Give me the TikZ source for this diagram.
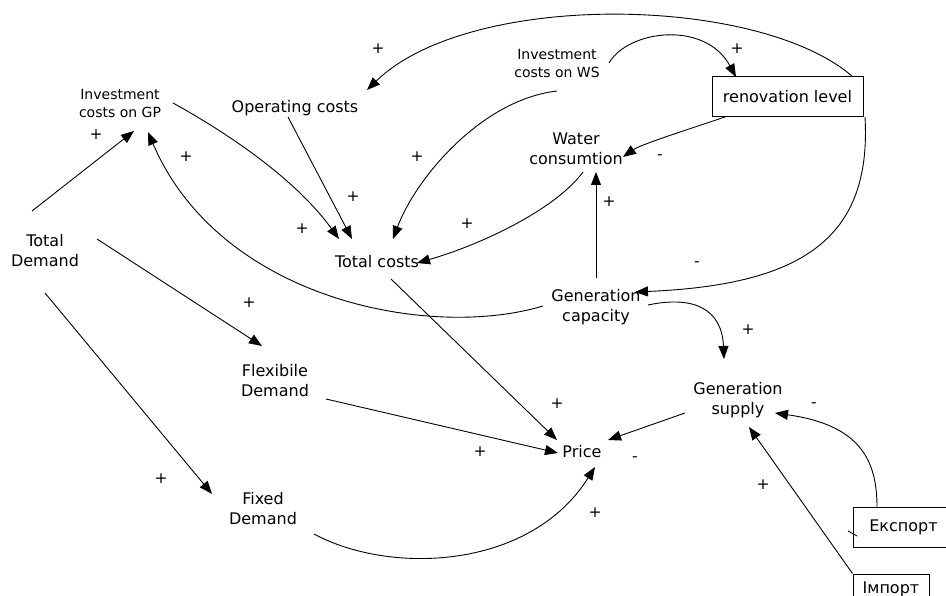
\documentclass[tikz,border=0pt]{standalone}
\usepackage{fontspec}
\setmainfont{DejaVu Sans}
\usetikzlibrary{arrows.meta}
\begin{document}
\begin{tikzpicture}[x=1pt,y=-1pt,
  lbl/.style={inner sep=0pt, align=center, font=\fontsize{16}{20}\selectfont},
  slbl/.style={inner sep=0pt, align=center, font=\fontsize{14}{18}\selectfont},
  boxnode/.style={draw, line width=1pt, inner sep=0pt, font=\fontsize{16}{20}\selectfont},
  sign/.style={inner sep=0pt, font=\fontsize{15.5}{17}\selectfont},
  arr/.style={line width=0.9pt, -{Triangle[length=13pt,width=10pt]}},
  ln/.style={line width=0.9pt}]
\useasboundingbox (0,0) rectangle (946,596);
% nodes
\node[slbl] (invgp) at (120,103) {Investment\\costs on GP};
\node[lbl] (opc) at (295,108) {Operating costs};
\node[slbl] (invws) at (557,63) {Investment\\costs on WS};
\node[boxnode, minimum width=151pt, minimum height=40pt] (ren) at (787.5,97) {renovation level};
\node[lbl] (wat) at (576,149) {Water\\consumtion};
\node[lbl] (gen) at (596,307) {Generation\\capacity};
\node[lbl] (tdem) at (45,251) {Total\\Demand};
\node[lbl] (tc) at (377,262) {Total costs};
\node[lbl] (flex) at (275,381) {Flexibile\\Demand};
\node[lbl] (fix) at (263,509) {Fixed\\Demand};
\node[lbl] (price) at (582,452) {Price};
\node[lbl] (sup) at (738,400) {Generation\\supply};
\node[boxnode, minimum width=101pt, minimum height=40pt] (exp) at (903.5,527) {Експорт};
\node[boxnode, minimum width=76pt, minimum height=30pt] (imp) at (891,589) {Імпорт};
% connectors
\draw[arr] ([shift={(-13,-40)}]tdem.center) -- ([shift={(14,28)}]invgp.center);
\draw[arr] ([shift={(53,0)}]invgp.center) .. controls (240,140) and (300,185) .. ([shift={(-38,-23)}]tc.center);
\draw[arr] ([shift={(-7,9)}]opc.center) -- ([shift={(-25,-23)}]tc.center);
\draw[arr] ([shift={(0,28)}]invws.center) .. controls (480,100) and (415,180) .. ([shift={(16,-23)}]tc.center);
\draw[arr] ([shift={(7,23)}]wat.center) .. controls (555,210) and (480,245) .. ([shift={(40,1)}]tc.center);
\draw[arr] ([shift={(-62.5,20)}]ren.center) .. controls (680,132) and (640,145) .. ([shift={(47,8)}]wat.center);
\draw[arr] ([shift={(0,-29)}]gen.center) -- ([shift={(20,23)}]wat.center);
\draw[arr] ([shift={(77.5,20)}]ren.center) .. controls (872,240) and (800,285) .. ([shift={(39,-15)}]gen.center);
\draw[arr] ([shift={(65.5,-20)}]ren.center) .. controls (760,-5) and (470,-10) .. ([shift={(72,-18)}]opc.center);
\draw[arr] ([shift={(52,0)}]invws.center) .. controls (628,30) and (705,20) .. ([shift={(-51.5,-20)}]ren.center);
\draw[arr] ([shift={(-53,-1)}]gen.center) .. controls (430,340) and (220,300) .. ([shift={(28,29)}]invgp.center);
\draw[arr] ([shift={(52,-2)}]gen.center) .. controls (695,295) and (722,310) .. ([shift={(-14,-41)}]sup.center);
\draw[arr] ([shift={(52,-12)}]tdem.center) -- ([shift={(-13,-35)}]flex.center);
\draw[arr] ([shift={(0,42)}]tdem.center) -- ([shift={(-51,-15)}]fix.center);
\draw[arr] ([shift={(51,18)}]flex.center) -- ([shift={(-24,1)}]price.center);
\draw[arr] ([shift={(14,17)}]tc.center) -- ([shift={(-25,-12)}]price.center);
\draw[arr] ([shift={(51,25)}]fix.center) .. controls (390,575) and (530,570) .. ([shift={(13,15)}]price.center);
\draw[arr] ([shift={(-53,13)}]sup.center) -- ([shift={(26,-12)}]price.center);
\draw[arr] ([shift={(-26.5,-20)}]exp.center) .. controls (877,460) and (860,425) .. ([shift={(37,13)}]sup.center);
\draw[arr] (imp.north west) -- ([shift={(11,27)}]sup.center);
\coordinate (tickA) at (848,531);
\coordinate (tickB) at (857,536);
\draw[ln] (tickA) -- (tickB);
% signs
\node[sign] (s1) at (96,135) {+};
\node[sign] (s2) at (302,229) {+};
\node[sign] (s3) at (353,197) {+};
\node[sign] (s4) at (417,157) {+};
\node[sign] (s5) at (467,224) {+};
\node[sign] (s6) at (660,157) {-};
\node[sign] (s7) at (609,202) {+};
\node[sign] (s8) at (697,264) {-};
\node[sign] (s9) at (378,49) {+};
\node[sign] (s10) at (737,49) {+};
\node[sign] (s11) at (186,157) {+};
\node[sign] (s12) at (748,330) {+};
\node[sign] (s13) at (249,303) {+};
\node[sign] (s14) at (161,479) {+};
\node[sign] (s15) at (480,452) {+};
\node[sign] (s16) at (557,404) {+};
\node[sign] (s17) at (595,513) {+};
\node[sign] (s18) at (635,459) {-};
\node[sign] (s19) at (814,405) {-};
\node[sign] (s20) at (763,485) {+};
\end{tikzpicture}
\end{document}
